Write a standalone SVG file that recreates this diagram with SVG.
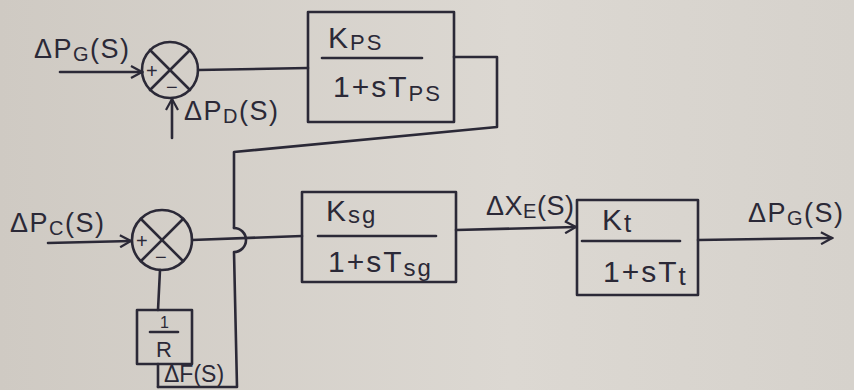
<svg xmlns="http://www.w3.org/2000/svg" width="854" height="390" viewBox="0 0 854 390">
<defs>
<linearGradient id="bg" x1="0" y1="0" x2="1" y2="0">
<stop offset="0" stop-color="#cfcac3"/>
<stop offset="0.6" stop-color="#dcd8d2"/>
<stop offset="1" stop-color="#d6d2cc"/>
</linearGradient>
<marker id="arr" markerWidth="14" markerHeight="14" refX="12" refY="7" orient="auto" markerUnits="userSpaceOnUse">
<path d="M1,1 L12,7 L1,13" fill="none" stroke="#2b2937" stroke-width="2.2"/>
</marker>
</defs>
<style>
.ln{fill:none;stroke:#2b2937;stroke-width:2.6;stroke-linecap:round;stroke-linejoin:round}
.tx{font-family:"Liberation Sans","DejaVu Sans",sans-serif;fill:#2b2937}
.lb{font-size:27px;letter-spacing:1.5px}
.bx{font-size:30px;letter-spacing:2px}
.sg{font-size:20px}
</style>
<rect width="854" height="390" fill="url(#bg)"/>

<g id="sum1">
<circle class="ln" cx="170" cy="70" r="28"/>
<line class="ln" x1="150" y1="50" x2="190" y2="90"/>
<line class="ln" x1="190" y1="50" x2="150" y2="90"/>
<text class="tx sg" x="146" y="78">+</text>
<text class="tx sg" x="166" y="94">−</text>
</g>

<g id="sum2">
<circle class="ln" cx="162" cy="240" r="30"/>
<line class="ln" x1="141" y1="219" x2="183" y2="261"/>
<line class="ln" x1="183" y1="219" x2="141" y2="261"/>
<text class="tx sg" x="136" y="248">+</text>
<text class="tx sg" x="155" y="264">−</text>
</g>

<g id="gps">
<rect class="ln" x="308" y="12" width="146" height="110"/>
<text class="tx bx" x="328" y="48">K<tspan font-size="22" dy="2">PS</tspan></text>
<line class="ln" x1="322" y1="58" x2="422" y2="58"/>
<text class="tx bx" x="333" y="97">1+sT<tspan font-size="22" dy="4">PS</tspan></text>
</g>

<g id="gsg">
<rect class="ln" x="302" y="192" width="154" height="90"/>
<text class="tx bx" x="326" y="221">K<tspan font-size="24" dy="2">sg</tspan></text>
<line class="ln" x1="318" y1="236" x2="436" y2="236"/>
<text class="tx bx" x="328" y="272">1+sT<tspan font-size="24" dy="4">sg</tspan></text>
</g>

<g id="gt">
<rect class="ln" x="577" y="200" width="121" height="95"/>
<text class="tx bx" x="602" y="230">K<tspan font-size="26" dy="2">t</tspan></text>
<line class="ln" x1="582" y1="241" x2="680" y2="241"/>
<text class="tx bx" x="603" y="282">1+sT<tspan font-size="26" dy="3">t</tspan></text>
</g>

<g id="gr">
<rect class="ln" x="137" y="310" width="55" height="54"/>
<line class="ln" x1="150" y1="332" x2="178" y2="332"/>
<text class="tx" font-size="16" x="160" y="328">1</text>
<text class="tx" font-size="22" x="156" y="357">R</text>
</g>

<g id="connectors">
<line class="ln" x1="60" y1="72" x2="142" y2="72" marker-end="url(#arr)"/>
<line class="ln" x1="172" y1="138" x2="172" y2="99" marker-end="url(#arr)"/>
<line class="ln" x1="198" y1="70" x2="308" y2="68"/>
<polyline class="ln" points="454,57 497,57 497,127 234,152 234,228"/>
<path class="ln" d="M234,228 A12,12 0 0 1 234,252 L237,387 L158,387"/>
<line class="ln" x1="158" y1="387" x2="158" y2="364"/>
<line class="ln" x1="158" y1="310" x2="160" y2="270"/>
<line class="ln" x1="48" y1="243" x2="131" y2="241" marker-end="url(#arr)"/>
<line class="ln" x1="192" y1="240" x2="302" y2="236"/>
<line class="ln" x1="456" y1="230" x2="576" y2="227" marker-end="url(#arr)"/>
<line class="ln" x1="698" y1="240" x2="832" y2="238" marker-end="url(#arr)"/>
</g>

<g id="labels">
<text class="tx lb" x="34" y="58">ΔP<tspan font-size="20" dy="3">G</tspan><tspan dy="-3">(S)</tspan></text>
<text class="tx lb" x="184" y="120">ΔP<tspan font-size="20" dy="3">D</tspan><tspan dy="-3">(S)</tspan></text>
<text class="tx lb" x="10" y="232">ΔP<tspan font-size="20" dy="3">C</tspan><tspan dy="-3">(S)</tspan></text>
<text class="tx lb" x="486" y="215" style="letter-spacing:0.5px">ΔX<tspan font-size="20" dy="3">E</tspan><tspan dy="-3">(S)</tspan></text>
<text class="tx lb" x="748" y="222">ΔP<tspan font-size="20" dy="3">G</tspan><tspan dy="-3">(S)</tspan></text>
<text class="tx" font-size="23" x="164" y="382">ΔF(S)</text>
</g>
</svg>
